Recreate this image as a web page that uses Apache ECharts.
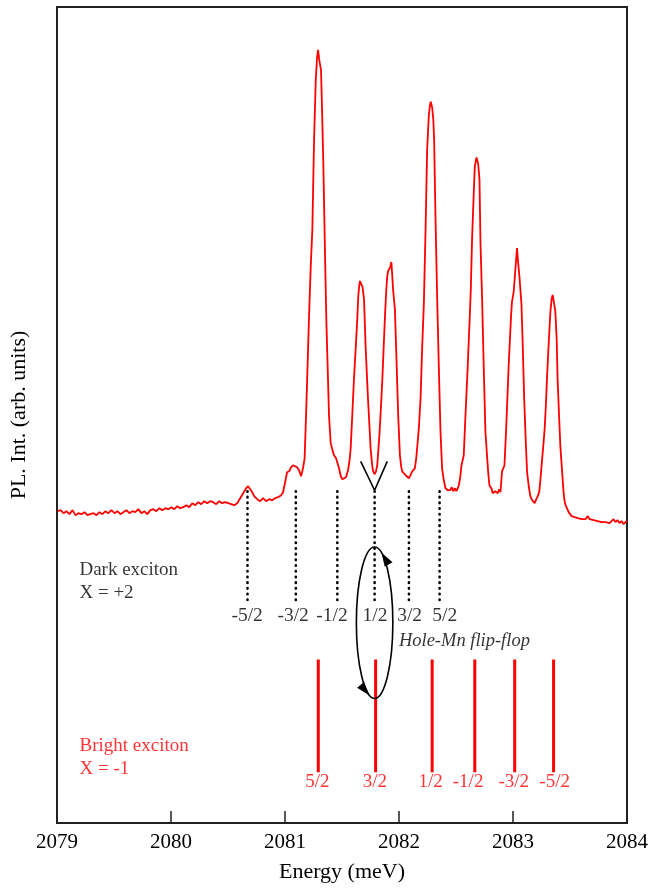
<!DOCTYPE html>
<html>
<head>
<meta charset="utf-8">
<script src="https://cdn.jsdelivr.net/npm/echarts@6/dist/echarts.min.js"></script>
<style>
html,body{margin:0;padding:0;background:#fff;}
#chart{width:651px;height:888px;}
</style>
</head>
<body>
<div id="chart"></div>
<script>
// ---------- DATA ----------
const xTicks = [2079, 2080, 2081, 2082, 2083, 2084];

// PL spectrum: energy (meV) and intensity (arb. units)
const spectrumE = [
2079.004,2079.031,2079.057,2079.083,2079.109,2079.136,2079.162,2079.188,2079.215,2079.241,
2079.267,2079.293,2079.320,2079.346,2079.372,2079.398,2079.425,2079.451,2079.477,2079.504,
2079.530,2079.556,2079.582,2079.609,2079.635,2079.661,2079.687,2079.714,2079.740,2079.766,
2079.792,2079.819,2079.845,2079.871,2079.898,2079.924,2079.950,2079.976,2080.003,2080.029,
2080.055,2080.081,2080.108,2080.134,2080.160,2080.187,2080.213,2080.239,2080.265,2080.292,
2080.318,2080.344,2080.370,2080.397,2080.423,2080.449,2080.476,2080.502,2080.528,2080.554,
2080.581,2080.607,2080.633,2080.659,2080.677,2080.694,2080.712,2080.729,2080.756,2080.782,
2080.808,2080.834,2080.861,2080.887,2080.913,2080.940,2080.966,2080.983,2081.001,2081.018,
2081.036,2081.053,2081.071,2081.088,2081.106,2081.123,2081.141,2081.158,2081.172,2081.185,
2081.198,2081.211,2081.226,2081.240,2081.255,2081.270,2081.281,2081.290,2081.303,2081.316,
2081.325,2081.336,2081.351,2081.363,2081.371,2081.386,2081.401,2081.417,2081.430,2081.448,
2081.461,2081.474,2081.489,2081.504,2081.518,2081.535,2081.553,2081.566,2081.576,2081.590,
2081.605,2081.620,2081.634,2081.643,2081.651,2081.658,2081.671,2081.680,2081.693,2081.708,
2081.719,2081.728,2081.741,2081.751,2081.763,2081.771,2081.785,2081.798,2081.809,2081.820,
2081.830,2081.841,2081.853,2081.865,2081.877,2081.888,2081.897,2081.905,2081.914,2081.923,
2081.933,2081.940,2081.949,2081.964,2081.975,2081.993,2082.008,2082.019,2082.028,2082.043,
2082.058,2082.072,2082.087,2082.102,2082.116,2082.131,2082.139,2082.151,2082.159,2082.174,
2082.189,2082.203,2082.218,2082.233,2082.247,2082.262,2082.271,2082.279,2082.291,2082.301,
2082.308,2082.321,2082.335,2082.349,2082.364,2082.378,2082.393,2082.408,2082.420,2082.428,
2082.437,2082.450,2082.463,2082.476,2082.490,2082.503,2082.516,2082.525,2082.538,2082.548,
2082.568,2082.583,2082.603,2082.621,2082.630,2082.641,2082.656,2082.665,2082.680,2082.694,
2082.706,2082.715,2082.729,2082.743,2082.758,2082.772,2082.783,2082.793,2082.805,2082.814,
2082.822,2082.831,2082.844,2082.857,2082.866,2082.879,2082.890,2082.904,2082.925,2082.939,
2082.962,2082.983,2082.991,2083.006,2083.018,2083.035,2083.044,2083.056,2083.074,2083.085,
2083.098,2083.111,2083.123,2083.138,2083.152,2083.168,2083.181,2083.190,2083.201,2083.210,
2083.221,2083.231,2083.243,2083.254,2083.266,2083.278,2083.289,2083.298,2083.313,2083.328,
2083.339,2083.348,2083.361,2083.371,2083.383,2083.391,2083.405,2083.415,2083.424,2083.444,
2083.453,2083.461,2083.473,2083.488,2083.503,2083.514,2083.527,2083.540,2083.553,2083.567,
2083.584,2083.602,2083.619,2083.637,2083.654,2083.672,2083.689,2083.707,2083.724,2083.742,
2083.759,2083.777,2083.794,2083.812,2083.829,2083.847,2083.864,2083.882,2083.899,2083.917,
2083.934,2083.952,2083.969,2083.987,2084.000
];
const spectrumI = [
313,314,311,313,310,314,309,311,310,312,
309,310,311,309,312,310,313,311,314,311,
313,310,312,314,311,313,312,315,311,313,
310,314,315,313,316,314,316,315,317,315,
318,316,317,319,317,321,319,322,320,323,
321,323,322,320,323,321,322,321,320,319,
321,326,331,336,338,336,332,328,325,323,
326,323,325,324,326,327,329,332,342,352,
353,357,359,360,357,354,348,356,366,410,
459,509,559,596,686,746,768,776,764,756,
716,663,571,503,471,409,381,374,369,366,
361,356,348,345,345,347,354,364,376,409,
446,476,506,529,539,544,542,538,526,476,
448,426,398,376,361,354,350,353,359,376,
393,416,443,476,509,534,549,554,556,558,
563,551,534,516,476,409,369,358,353,351,
349,348,346,348,353,355,356,366,376,396,
426,476,521,596,676,711,720,724,718,706,
686,603,526,459,393,356,344,336,338,334,
336,334,337,333,336,333,336,339,348,359,
369,409,459,509,536,586,633,659,668,662,
646,581,526,459,393,369,351,339,337,335,
331,329,333,334,331,335,332,353,359,393,
459,509,523,533,551,577,564,549,521,481,
426,386,353,338,328,324,323,321,324,326,
329,333,348,363,379,396,421,446,481,513,
526,530,528,514,486,446,406,379,364,331,
323,319,316,312,310,308,310,307,309,306,
308,305,307,305,308,305,307,304,306,303,
305,302,304,302,304,301,303,305,302,304,
301,303,300,302,303
];

// Dark exciton (X = +2) transitions
const darkE = [2080.671, 2081.095, 2081.459, 2081.786, 2082.087, 2082.356];
const darkLabels = ['-5/2', '-3/2', '-1/2', '1/2', '3/2', '5/2'];
const darkLabelE = [2080.668, 2081.071, 2081.412, 2081.789, 2082.093, 2082.402];
const darkTop = 333, darkBottom = 223, darkLabelI = 208;

// Bright exciton (X = -1) transitions
const brightE = [2081.292, 2081.795, 2082.291, 2082.665, 2083.015, 2083.356];
const brightLabels = ['5/2', '3/2', '1/2', '-1/2', '-3/2', '-5/2'];
const brightLabelE = [2081.284, 2081.789, 2082.277, 2082.606, 2083.006, 2083.365];
const brightTop = 164, brightBottom = 51, brightLabelI = 41;

// "V" marker above the 1/2 dark line
const vE = [2081.664, 2081.786, 2081.897];
const vI = [363, 334, 363];

// Hole-Mn flip-flop loop: [centerE, centerI, radiusE, radiusI]
const loop = [2081.786, 201, 0.160, 76];
const loopArrowAngles = [68, 254];

// Text annotations
const notes = [
  {e: 2079.197, i: 254, text: 'Dark exciton', color: '#000000', italic: false},
  {e: 2079.197, i: 231, text: 'X = +2', color: '#000000', italic: false},
  {e: 2079.197, i: 77, text: 'Bright exciton', color: '#ff0000', italic: false},
  {e: 2079.197, i: 54, text: 'X = -1', color: '#ff0000', italic: false},
  {e: 2081.999, i: 183, text: 'Hole-Mn flip-flop', color: '#000000', italic: true}
];

// ---------- CHART ----------
const FONT = '"Liberation Serif", "Times New Roman", serif';
const chart = echarts.init(document.getElementById('chart'));

function segments(xs, y0, y1) {
  const d = [];
  xs.forEach(function (x) { d.push([x, y0]); d.push([x, y1]); d.push([x, '-']); });
  return d;
}

const spectrum = spectrumE.map(function (e, k) { return [e, spectrumI[k]]; });

const option = {
  backgroundColor: '#fff',
  animation: false,
  grid: {left: 57, right: 22, top: 7, bottom: 62, show: true, borderColor: '#222', borderWidth: 2},
  xAxis: {
    type: 'value', min: xTicks[0], max: xTicks[xTicks.length - 1], interval: 1,
    name: 'Energy (meV)', nameLocation: 'middle', nameGap: 38,
    nameTextStyle: {fontFamily: FONT, fontSize: 22, color: '#000'},
    axisLine: {show: true, lineStyle: {color: '#222', width: 2}},
    axisTick: {show: true, inside: true, length: 12, lineStyle: {color: '#222', width: 1.5}},
    axisLabel: {fontFamily: FONT, fontSize: 21, color: '#000', margin: 9,
      formatter: function (v) { return String(v); }},
    splitLine: {show: false}
  },
  yAxis: {
    type: 'value', min: 0, max: 819,
    name: 'PL. Int. (arb. units)', nameLocation: 'middle', nameGap: 27,
    nameTextStyle: {fontFamily: FONT, fontSize: 22, color: '#000'},
    axisLine: {show: true, lineStyle: {color: '#222', width: 2}},
    axisTick: {show: false}, axisLabel: {show: false}, splitLine: {show: false}
  },
  series: [
    {
      type: 'line', data: spectrum, showSymbol: false, symbol: 'none',
      lineStyle: {color: '#ff0000', width: 1.8}, z: 3
    },
    {
      type: 'line', data: segments(darkE, darkTop, darkBottom), showSymbol: false, symbol: 'none',
      connectNulls: false,
      lineStyle: {color: '#000', width: 2.6, type: [0.5, 5.2], cap: 'round'}
    },
    {
      type: 'line', data: segments(brightE, brightTop, brightBottom), showSymbol: false, symbol: 'none',
      connectNulls: false,
      lineStyle: {color: '#ff0000', width: 3}
    },
    {
      type: 'line', data: vE.map(function (e, k) { return [e, vI[k]]; }), showSymbol: false, symbol: 'none',
      lineStyle: {color: '#000', width: 1.6}
    },
    {
      type: 'custom', data: [loop], z: 4,
      renderItem: function (params, api) {
        const c = api.coord([api.value(0), api.value(1)]);
        const s = api.size([api.value(2), api.value(3)]);
        const rx = s[0], ry = s[1];
        const children = [{
          type: 'ellipse', shape: {cx: c[0], cy: c[1], rx: rx, ry: ry},
          style: {fill: 'none', stroke: '#000', lineWidth: 1.6}
        }];
        loopArrowAngles.forEach(function (deg) {
          const t = deg * Math.PI / 180;
          const px = c[0] + rx * Math.cos(t), py = c[1] - ry * Math.sin(t);
          let dx = -rx * Math.sin(t), dy = -ry * Math.cos(t);
          const L = Math.sqrt(dx * dx + dy * dy); dx /= L; dy /= L;
          const len = 14, hw = 4.5;
          const bx = px - dx * len, by = py - dy * len;
          children.push({
            type: 'polygon',
            shape: {points: [[px, py], [bx - dy * hw, by + dx * hw], [bx + dy * hw, by - dx * hw]]},
            style: {fill: '#000'}
          });
        });
        return {type: 'group', children: children};
      }
    },
    {
      type: 'scatter', symbolSize: 0, silent: true,
      data: darkLabelE.map(function (e, k) { return {value: [e, darkLabelI], name: darkLabels[k]}; }),
      label: {show: true, position: 'inside', formatter: '{b}', fontFamily: FONT, fontSize: 19.5, color: '#000'}
    },
    {
      type: 'scatter', symbolSize: 0, silent: true,
      data: brightLabelE.map(function (e, k) { return {value: [e, brightLabelI], name: brightLabels[k]}; }),
      label: {show: true, position: 'inside', formatter: '{b}', fontFamily: FONT, fontSize: 19, color: '#ff0000'}
    },
    {
      type: 'scatter', symbolSize: 0, silent: true,
      data: notes.map(function (n) {
        return {
          value: [n.e, n.i], name: n.text,
          label: {color: n.color, fontStyle: n.italic ? 'italic' : 'normal', fontSize: n.italic ? 18.5 : 19}
        };
      }),
      label: {show: true, position: [0, 0], align: 'left', verticalAlign: 'middle', formatter: '{b}', fontFamily: FONT}
    }
  ]
};
chart.setOption(option);
</script>
</body>
</html>
